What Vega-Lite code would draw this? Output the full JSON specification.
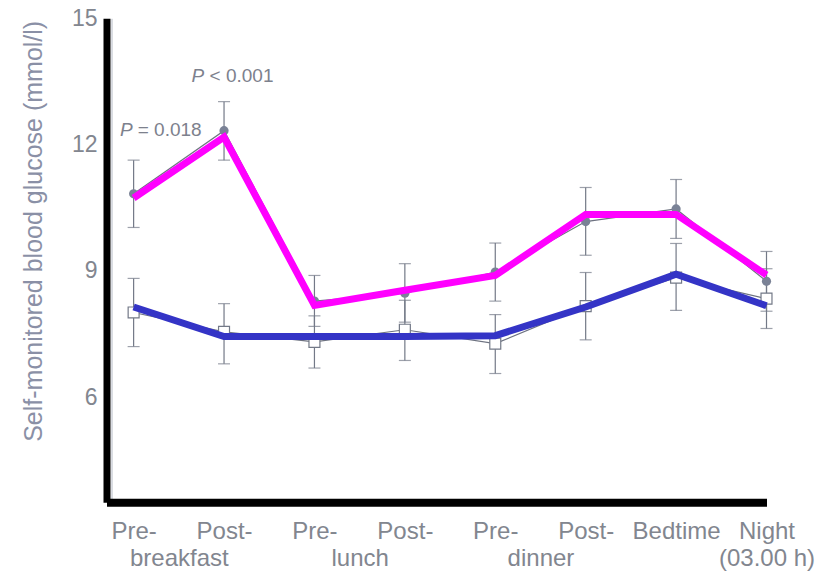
{
  "$schema": "https://vega.github.io/schema/vega-lite/v6.json",
  "autosize": "none",
  "padding": {"left": 106.5, "top": 18.3, "right": 64.5, "bottom": 72.7},
  "width": 660,
  "height": 484,
  "background": "white",
  "config": {
    "view": {"stroke": null},
    "font": "Liberation Sans",
    "text": {"font": "Liberation Sans"}
  },
  "datasets": {
    "glucose": [
      {"slot": 0, "cohort": "A", "mean": 10.83, "lo": 10.03, "hi": 11.63, "trend": 10.73},
      {"slot": 1, "cohort": "A", "mean": 12.33, "lo": 11.63, "hi": 13.02, "trend": 12.18},
      {"slot": 2, "cohort": "A", "mean": 8.28, "lo": 7.68, "hi": 8.89, "trend": 8.18},
      {"slot": 3, "cohort": "A", "mean": 8.47, "lo": 7.78, "hi": 9.17, "trend": 8.54},
      {"slot": 4, "cohort": "A", "mean": 8.97, "lo": 8.28, "hi": 9.66, "trend": 8.89},
      {"slot": 5, "cohort": "A", "mean": 10.17, "lo": 9.37, "hi": 10.98, "trend": 10.34},
      {"slot": 6, "cohort": "A", "mean": 10.47, "lo": 9.77, "hi": 11.17, "trend": 10.34},
      {"slot": 7, "cohort": "A", "mean": 8.75, "lo": 8.04, "hi": 9.46, "trend": 8.9},
      {"slot": 0, "cohort": "B", "mean": 8.01, "lo": 7.2, "hi": 8.82, "trend": 8.14},
      {"slot": 1, "cohort": "B", "mean": 7.55, "lo": 6.79, "hi": 8.22, "trend": 7.44},
      {"slot": 2, "cohort": "B", "mean": 7.31, "lo": 6.69, "hi": 7.93, "trend": 7.44},
      {"slot": 3, "cohort": "B", "mean": 7.6, "lo": 6.87, "hi": 8.3, "trend": 7.44},
      {"slot": 4, "cohort": "B", "mean": 7.27, "lo": 6.56, "hi": 7.96, "trend": 7.46},
      {"slot": 5, "cohort": "B", "mean": 8.16, "lo": 7.36, "hi": 8.96, "trend": 8.14},
      {"slot": 6, "cohort": "B", "mean": 8.84, "lo": 8.06, "hi": 9.65, "trend": 8.92},
      {"slot": 7, "cohort": "B", "mean": 8.34, "lo": 7.63, "hi": 9.05, "trend": 8.17}
    ],
    "notes": [
      {"slot": -0.15, "glucose": 12.2, "part": "symbol", "text": "P"},
      {"slot": 0.045, "glucose": 12.2, "part": "value", "text": "= 0.018"},
      {"slot": 0.64, "glucose": 13.49, "part": "symbol", "text": "P"},
      {"slot": 0.84, "glucose": 13.49, "part": "value", "text": "< 0.001"}
    ]
  },
  "encoding": {
    "x": {
      "field": "slot",
      "type": "quantitative",
      "title": null,
      "scale": {"domain": [-0.3, 7], "nice": false, "zero": false},
      "axis": {
        "title": null,
        "values": [-0.25, 0, 0.5, 1, 2, 2.5, 3, 4, 4.5, 5, 6, 7],
        "labelExpr": "datum.value == 0 ? 'Pre-' : datum.value == 0.5 ? [' ', 'breakfast'] : datum.value == 1 ? 'Post-' : datum.value == 2 ? 'Pre-' : datum.value == 2.5 ? [' ', 'lunch'] : datum.value == 3 ? 'Post-' : datum.value == 4 ? 'Pre-' : datum.value == 4.5 ? [' ', 'dinner'] : datum.value == 5 ? 'Post-' : datum.value == 6 ? 'Bedtime' : datum.value == 7 ? ['Night', '(03.00 h)'] : ''",
        "domainColor": "#000000",
        "domainWidth": 8,
        "ticks": false,
        "labelPadding": 17,
        "labelFont": "Liberation Sans",
        "labelFontSize": 24,
        "labelColor": "#82868f",
        "labelLineHeight": 27.5,
        "labelOverlap": false,
        "labelFlush": false,
        "labelBound": false,
        "grid": true,
        "gridColor": "#b4b9c4",
        "gridWidth": 1,
        "gridOpacity": {"condition": {"test": "datum.value < 0", "value": 1}, "value": 0}
      }
    }
  },
  "layer": [
    {
      "data": {"name": "glucose"},
      "mark": {"type": "rule", "color": "#737987", "strokeWidth": 1.2},
      "encoding": {
        "y": {
          "field": "lo",
          "type": "quantitative",
          "title": "Self-monitored blood glucose (mmol/l)",
          "scale": {"domain": [3.5, 15], "nice": false, "zero": false},
          "axis": {
            "title": "Self-monitored blood glucose (mmol/l)",
            "values": [6, 9, 12, 15],
            "domainColor": "#000000",
            "domainWidth": 7,
            "ticks": false,
            "grid": false,
            "labelPadding": 9.5,
            "labelFont": "Liberation Sans",
            "labelFontSize": 23,
            "labelColor": "#82868f",
            "titleFont": "Liberation Sans",
            "titleFontSize": 25,
            "titleFontWeight": "normal",
            "titleColor": "#8a90a6",
            "titleAngle": -90,
            "titleAlign": "right",
            "titleBaseline": "middle",
            "titleX": -73.5,
            "titleY": 2
          }
        },
        "y2": {"field": "hi"}
      }
    },
    {
      "data": {"name": "glucose"},
      "mark": {"type": "tick", "orient": "horizontal", "color": "#737987", "size": 12, "thickness": 1.2},
      "encoding": {
        "y": {"field": "lo", "type": "quantitative", "title": "Self-monitored blood glucose (mmol/l)", "scale": {"domain": [3.5, 15], "nice": false, "zero": false}}
      }
    },
    {
      "data": {"name": "glucose"},
      "mark": {"type": "tick", "orient": "horizontal", "color": "#737987", "size": 12, "thickness": 1.2},
      "encoding": {
        "y": {"field": "hi", "type": "quantitative", "title": "Self-monitored blood glucose (mmol/l)", "scale": {"domain": [3.5, 15], "nice": false, "zero": false}}
      }
    },
    {
      "data": {"name": "glucose"},
      "mark": {"type": "line", "color": "#6d7280", "strokeWidth": 1.2},
      "encoding": {
        "y": {"field": "mean", "type": "quantitative", "title": "Self-monitored blood glucose (mmol/l)", "scale": {"domain": [3.5, 15], "nice": false, "zero": false}},
        "detail": {"field": "cohort"}
      }
    },
    {
      "data": {"name": "glucose"},
      "transform": [{"filter": "datum.cohort == 'A'"}],
      "mark": {"type": "point", "shape": "circle", "filled": true, "color": "#7a8296", "opacity": 1, "size": 85},
      "encoding": {
        "y": {"field": "mean", "type": "quantitative", "title": "Self-monitored blood glucose (mmol/l)", "scale": {"domain": [3.5, 15], "nice": false, "zero": false}}
      }
    },
    {
      "data": {"name": "glucose"},
      "transform": [{"filter": "datum.cohort == 'B'"}],
      "mark": {"type": "point", "shape": "square", "filled": false, "fill": "#ffffff", "fillOpacity": 1, "stroke": "#737987", "strokeWidth": 1.2, "opacity": 1, "size": 120},
      "encoding": {
        "y": {"field": "mean", "type": "quantitative", "title": "Self-monitored blood glucose (mmol/l)", "scale": {"domain": [3.5, 15], "nice": false, "zero": false}}
      }
    },
    {
      "data": {"name": "glucose"},
      "mark": {"type": "line", "strokeWidth": 7, "strokeJoin": "miter", "strokeCap": "butt"},
      "encoding": {
        "y": {"field": "trend", "type": "quantitative", "title": "Self-monitored blood glucose (mmol/l)", "scale": {"domain": [3.5, 15], "nice": false, "zero": false}},
        "color": {
          "field": "cohort",
          "type": "nominal",
          "scale": {"domain": ["A", "B"], "range": ["#ff00ff", "#3434c6"]},
          "legend": null
        }
      }
    },
    {
      "data": {"name": "notes"},
      "transform": [{"filter": "datum.part == 'symbol'"}],
      "mark": {"type": "text", "align": "left", "baseline": "alphabetic", "fontSize": 19, "fontStyle": "italic", "color": "#7d818d"},
      "encoding": {
        "y": {"field": "glucose", "type": "quantitative", "title": "Self-monitored blood glucose (mmol/l)", "scale": {"domain": [3.5, 15], "nice": false, "zero": false}},
        "text": {"field": "text"}
      }
    },
    {
      "data": {"name": "notes"},
      "transform": [{"filter": "datum.part == 'value'"}],
      "mark": {"type": "text", "align": "left", "baseline": "alphabetic", "fontSize": 19, "color": "#7d818d"},
      "encoding": {
        "y": {"field": "glucose", "type": "quantitative", "title": "Self-monitored blood glucose (mmol/l)", "scale": {"domain": [3.5, 15], "nice": false, "zero": false}},
        "text": {"field": "text"}
      }
    }
  ]
}
